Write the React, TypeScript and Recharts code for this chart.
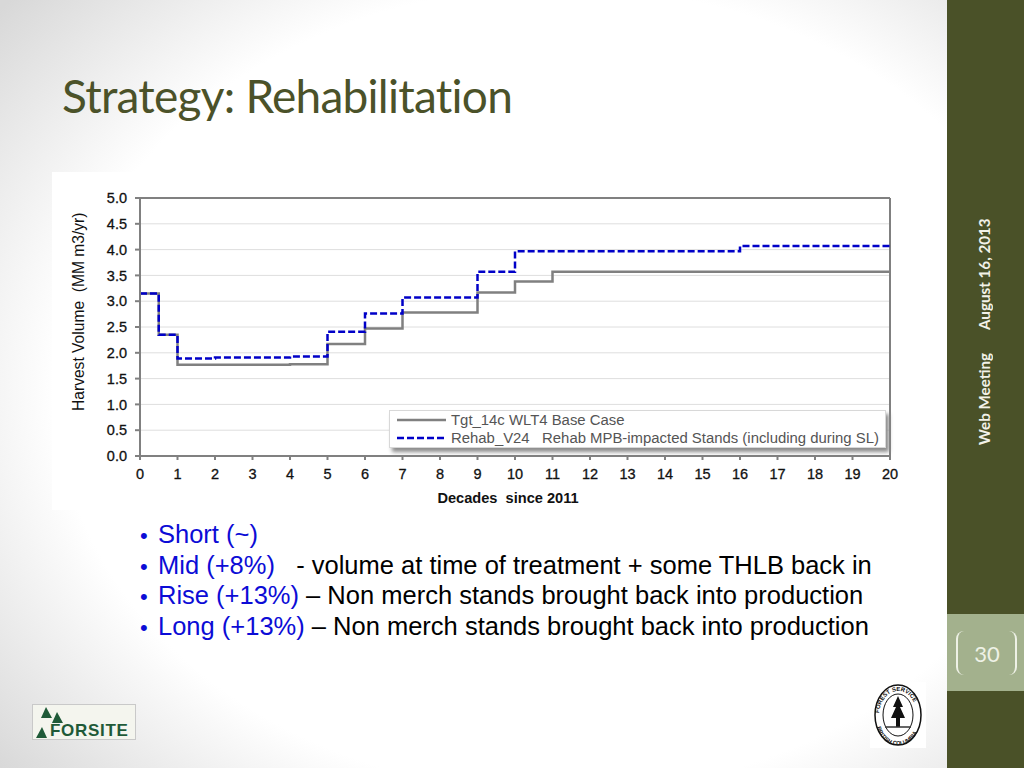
import { LineChart, Line, XAxis, YAxis, CartesianGrid, ReferenceLine, Legend } from "recharts";

const decades = [0, 0.5, 1, 2, 4, 5, 6, 7, 9, 10, 11, 16, 20];
const baseCase = [3.15, 2.35, 1.77, 1.77, 1.78, 2.17, 2.47, 2.78, 3.17, 3.38, 3.57, 3.57, 3.57];
const rehab = [3.15, 2.35, 1.89, 1.91, 1.93, 2.41, 2.76, 3.07, 3.57, 3.97, 3.97, 4.07, 4.07];
const xTicks = [0, 1, 2, 3, 4, 5, 6, 7, 8, 9, 10, 11, 12, 13, 14, 15, 16, 17, 18, 19, 20];
const yTicks = [0, 0.5, 1, 1.5, 2, 2.5, 3, 3.5, 4, 4.5, 5];
const baseName = "Tgt_14c WLT4 Base Case";
const rehabName = "Rehab_V24   Rehab MPB-impacted Stands (including during SL)";

const bullets = [
  { lead: "Short (~)", rest: "" },
  { lead: "Mid (+8%)", rest: "   - volume at time of treatment + some THLB back in" },
  { lead: "Rise (+13%)", rest: " – Non merch stands brought back into production" },
  { lead: "Long (+13%)", rest: " – Non merch stands brought back into production" },
];

const chartData = decades.map((d, i) => ({ decade: d, base: baseCase[i], rehab: rehab[i] }));

const AXIS_FONT = "'Liberation Sans', Arial, sans-serif";
const SIDE_FONT = "Lato, 'Open Sans', sans-serif";
const BULLET_BLUE = "#0c0cd6";

const ChartLegend = () => (
  <div
    style={{
      width: 497,
      height: 38,
      boxSizing: "border-box",
      background: "#fff",
      border: "1px solid #d8d8d8",
      boxShadow: "3px 4px 4px #8c8c8c",
      fontFamily: AXIS_FONT,
      fontSize: 14.9,
      color: "#555",
      whiteSpace: "pre",
      paddingLeft: 7,
      lineHeight: "18px",
    }}
  >
    <div style={{ display: "flex", alignItems: "center" }}>
      <svg width={50} height={18}>
        <line x1={0} x2={49} y1={9} y2={9} stroke="#808080" strokeWidth={2.5} />
      </svg>
      <span style={{ marginLeft: 4 }}>{baseName}</span>
    </div>
    <div style={{ display: "flex", alignItems: "center" }}>
      <svg width={50} height={18}>
        <line x1={0} x2={49} y1={9} y2={9} stroke="#0000c8" strokeWidth={2.5} strokeDasharray="7 3" />
      </svg>
      <span style={{ marginLeft: 4 }}>{rehabName}</span>
    </div>
  </div>
);

const Seal = () => (
  <svg width={56} height={66} style={{ position: "absolute", left: 870, top: 682, background: "#fff" }}>
    <defs>
      <path id="sealTop" d="M 9 34 A 19 25 0 0 1 47 34" />
      <path id="sealBottom" d="M 6 38 A 22 25 0 0 0 50 38" />
    </defs>
    <ellipse cx={28} cy={33} rx={23} ry={30} fill="#fff" stroke="#111" strokeWidth={1.5} />
    <ellipse cx={28} cy={33} rx={15} ry={21} fill="#fff" stroke="#111" strokeWidth={1} />
    <text fontSize={6} fontWeight={700} fontFamily={AXIS_FONT} fill="#111">
      <textPath href="#sealTop" startOffset="4%">FOREST SERVICE</textPath>
    </text>
    <text fontSize={5.5} fontWeight={700} fontFamily={AXIS_FONT} fill="#111">
      <textPath href="#sealBottom" startOffset="10%">BRITISH COLUMBIA</textPath>
    </text>
    <polygon points="28,14 33,25 30,25 35,36 30,36 30,45 26,45 26,36 21,36 26,25 23,25" fill="#111" />
    <line x1={15} x2={41} y1={45} y2={45} stroke="#333" strokeWidth={1.5} />
  </svg>
);

const ForsiteLogo = () => (
  <svg width={102} height={34} style={{ position: "absolute", left: 33, top: 705, background: "#f4f5ee", outline: "1px solid #c9c9c9" }}>
    <polygon points="13,2 19,13 8,13" fill="#1f5a38" />
    <polygon points="24,7 30,18 19,18" fill="#1f5a38" />
    <polygon points="9,22 14,33 3,33" fill="#1f5a38" />
    <text x={17} y={31} fontFamily={AXIS_FONT} fontWeight={700} fontSize={17} letterSpacing={0.7} fill="#1f5a38">
      FORSITE
    </text>
  </svg>
);

export default function App() {
  return (
    <div
      style={{
        position: "absolute",
        left: 0,
        top: 0,
        width: 1024,
        height: 768,
        overflow: "hidden",
        background: "radial-gradient(ellipse 700px 560px at 560px 390px, #ffffff 72%, #d8d8d8 105%)",
      }}
    >
      <div
        style={{
          position: "absolute",
          left: 62,
          top: 66,
          fontFamily: SIDE_FONT,
          fontSize: 46,
          lineHeight: "60px",
          letterSpacing: -0.75,
          color: "#4b5229",
          whiteSpace: "pre",
        }}
      >
        Strategy: Rehabilitation
      </div>

      <div style={{ position: "absolute", left: 947, top: 0, width: 77, height: 768, background: "#4a5128" }} />
      <div style={{ position: "absolute", left: 947, top: 614, width: 77, height: 77, background: "#a3b18d" }} />
      <div style={{ position: "absolute", left: 956, top: 631, width: 8, height: 44, boxSizing: "border-box", borderLeft: "2px solid #eef1e6", borderRadius: "8px 0 0 8px" }} />
      <div style={{ position: "absolute", left: 1009, top: 631, width: 8, height: 44, boxSizing: "border-box", borderRight: "2px solid #eef1e6", borderRadius: "0 8px 8px 0" }} />
      <div style={{ position: "absolute", left: 947, top: 639, width: 80, textAlign: "center", fontFamily: SIDE_FONT, fontSize: 22, lineHeight: "30px", color: "#eef1e6" }}>30</div>
      <div style={{ position: "absolute", left: 974, top: 210, height: 128, writingMode: "vertical-rl", transform: "rotate(180deg)", fontFamily: SIDE_FONT, fontWeight: 700, fontSize: 15.2, lineHeight: "20px", color: "#f2f2e8", whiteSpace: "pre", textAlign: "center" }}>August 16, 2013</div>
      <div style={{ position: "absolute", left: 974, top: 343, height: 112, writingMode: "vertical-rl", transform: "rotate(180deg)", fontFamily: SIDE_FONT, fontWeight: 700, fontSize: 15.2, lineHeight: "20px", color: "#f2f2e8", whiteSpace: "pre", textAlign: "center" }}>Web Meeting</div>

      <div style={{ position: "absolute", left: 52, top: 172, width: 871, height: 338, background: "#fff" }}>
        <LineChart
          width={871}
          height={338}
          data={chartData}
          margin={{ top: 26, right: 33, left: 28, bottom: 24 }}
        >
          <CartesianGrid horizontal vertical={false} stroke="#dedede" strokeWidth={1} />
          <XAxis
            dataKey="decade"
            type="number"
            domain={[0, 20]}
            ticks={xTicks}
            interval={0}
            height={30}
            tickSize={4}
            tickMargin={9}
            stroke="#808080"
            strokeWidth={2}
            tick={{ fontSize: 14.5, fontFamily: AXIS_FONT, fill: "#111", stroke: "#111", strokeWidth: 0.3 }}
            label={{ value: "Decades\u00a0\u00a0since 2011", position: "insideBottom", offset: -17, dx: -7, fontSize: 14.6, fontFamily: AXIS_FONT, fontWeight: 700, fill: "#111" }}
          />
          <YAxis
            type="number"
            domain={[0, 5]}
            ticks={yTicks}
            interval={0}
            width={60}
            tickSize={5}
            tickMargin={8}
            tickFormatter={(v: number) => v.toFixed(1)}
            stroke="#808080"
            strokeWidth={2}
            tick={{ fontSize: 14.5, fontFamily: AXIS_FONT, fill: "#111", stroke: "#111", strokeWidth: 0.3 }}
            label={{ value: "Harvest Volume\u00a0\u00a0(MM m3/yr)", angle: -90, position: "insideLeft", offset: 0, dy: 84, dx: -2, fontSize: 15.6, fontFamily: AXIS_FONT, fill: "#111" }}
          />
          <ReferenceLine y={5} stroke="#808080" strokeWidth={2} />
          <ReferenceLine x={20} stroke="#808080" strokeWidth={2} />
          <Line dataKey="base" name={baseName} type="stepAfter" stroke="#808080" strokeWidth={2.5} dot={false} isAnimationActive={false} />
          <Line dataKey="rehab" name={rehabName} type="stepAfter" stroke="#0000c8" strokeWidth={2.5} strokeDasharray="7 3" dot={false} isAnimationActive={false} />
          <Legend
            content={<ChartLegend />}
            verticalAlign="middle"
            wrapperStyle={{ position: "absolute", left: 337, top: 238, width: 497, height: 38 }}
          />
        </LineChart>
      </div>

      <div style={{ position: "absolute", left: 140, top: 519, fontFamily: AXIS_FONT, fontSize: 25.5, color: "#000", whiteSpace: "pre" }}>
        {bullets.map((b) => (
          <div key={b.lead} style={{ height: 30.6, lineHeight: "30.6px" }}>
            <span style={{ color: BULLET_BLUE, fontSize: 22, display: "inline-block", width: 18, lineHeight: "18px" }}>•</span>
            <span style={{ color: BULLET_BLUE }}>{b.lead}</span>
            <span>{b.rest}</span>
          </div>
        ))}
      </div>

      <ForsiteLogo />
      <Seal />
    </div>
  );
}
